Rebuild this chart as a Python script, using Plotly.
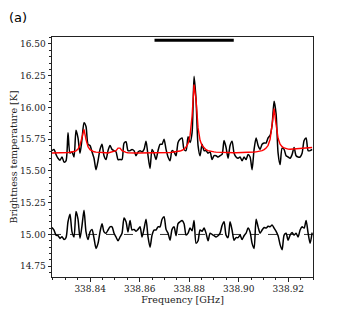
import numpy as np
import plotly.graph_objects as go

# ---- data ----
freq_start = 338.8246   # GHz, first channel
freq_step = 0.000808    # GHz per channel
n_chan = 131

spectrum = [
    15.66, 15.67, 15.63, 15.60, 15.585, 15.61, 15.57, 15.58, 15.80, 15.64,
    15.65, 15.61, 15.82, 15.76, 15.64, 15.75, 15.88, 15.85, 15.71, 15.70,
    15.65, 15.60, 15.51, 15.58, 15.67, 15.71, 15.62, 15.59, 15.66, 15.70,
    15.67, 15.66, 15.65, 15.59, 15.59, 15.59, 15.72, 15.73, 15.66, 15.66,
    15.67, 15.66, 15.62, 15.65, 15.66, 15.65, 15.67, 15.735, 15.62, 15.52,
    15.67, 15.64, 15.59, 15.66, 15.71, 15.71, 15.75, 15.67, 15.61, 15.58,
    15.66, 15.65, 15.62, 15.725, 15.75, 15.76, 15.67, 15.66, 15.77, 15.725,
    15.80, 16.245, 16.06, 15.70, 15.62, 15.71, 15.66, 15.66, 15.64, 15.65,
    15.59, 15.62, 15.62, 15.61, 15.62, 15.63, 15.74, 15.685, 15.60, 15.70,
    15.735, 15.64, 15.61, 15.60, 15.61, 15.58, 15.61, 15.59, 15.63, 15.61,
    15.51, 15.67, 15.76, 15.70, 15.67, 15.71, 15.72, 15.72, 15.76, 15.78,
    15.86, 16.05, 15.95, 15.64, 15.55, 15.68, 15.67, 15.62, 15.61, 15.60,
    15.63, 15.685, 15.62, 15.61, 15.61, 15.64, 15.74, 15.76, 15.66, 15.66,
    15.67,
]

model = [
    15.641, 15.641, 15.642, 15.642, 15.642, 15.643, 15.643, 15.644, 15.645, 15.647,
    15.649, 15.653, 15.659, 15.673, 15.703, 15.773, 15.828, 15.747, 15.691, 15.668,
    15.657, 15.651, 15.648, 15.646, 15.645, 15.644, 15.643, 15.643, 15.642, 15.646,
    15.647, 15.651, 15.660, 15.680, 15.680, 15.660, 15.651, 15.646, 15.644, 15.642,
    15.641, 15.641, 15.641, 15.641, 15.641, 15.641, 15.641, 15.642, 15.642, 15.642,
    15.642, 15.642, 15.643, 15.643, 15.643, 15.644, 15.644, 15.645, 15.645, 15.646,
    15.647, 15.649, 15.651, 15.654, 15.657, 15.663, 15.672, 15.688, 15.717, 15.780,
    15.931, 16.180, 16.060, 15.839, 15.742, 15.700, 15.679, 15.667, 15.660, 15.655,
    15.652, 15.650, 15.648, 15.647, 15.646, 15.645, 15.644, 15.645, 15.645, 15.644,
    15.644, 15.644, 15.644, 15.644, 15.644, 15.644, 15.644, 15.644, 15.645, 15.645,
    15.647, 15.649, 15.650, 15.652, 15.655, 15.660, 15.668, 15.680, 15.702, 15.750,
    15.864, 15.991, 15.866, 15.757, 15.711, 15.691, 15.681, 15.675, 15.672, 15.671,
    15.672, 15.672, 15.673, 15.674, 15.675, 15.677, 15.678, 15.680, 15.681, 15.683,
    15.685,
]

residual = [
    15.055, 15.034, 14.995, 14.99, 14.969, 14.982, 14.96, 14.975, 15.10, 15.16,
    15.02, 14.98, 15.18, 15.12, 14.97, 15.07, 15.19, 15.02, 14.96, 15.02,
    15.04, 14.97, 14.89, 14.93, 15.02, 15.085, 15.02, 15.01, 15.035, 15.06,
    15.06, 15.01, 14.98, 14.95, 14.98, 15.01, 15.13, 15.10, 15.02, 15.11,
    15.035, 15.04, 15.025, 15.04, 15.06, 14.98, 15.045, 15.12, 14.98, 14.90,
    14.995, 15.035, 15.035, 15.06, 15.06, 15.12, 15.14, 15.04, 15.01, 14.955,
    15.04, 15.06, 14.99, 15.085, 15.10, 15.11, 15.085, 14.995, 15.01, 15.05,
    15.03, 15.11, 14.93, 14.95, 15.035, 15.025, 15.05, 15.01, 14.95, 15.01,
    15.00, 14.99, 14.98, 14.99, 15.01, 15.07, 15.10, 14.995, 14.975, 15.10,
    15.035, 14.955, 14.975, 14.975, 14.995, 14.96, 14.99, 15.01, 15.05, 15.02,
    14.93, 14.89, 15.12, 15.06, 15.01, 15.035, 15.055, 15.05, 15.065, 15.06,
    15.075, 15.05, 15.025, 14.99, 14.92, 14.88, 14.995, 15.01, 14.955, 14.995,
    15.015, 14.995, 15.01, 14.98, 15.035, 15.06, 15.05, 15.11, 15.01, 14.93,
    15.015,
]

residual_zero = 15.0
bar_freq = [338.866, 338.898]
bar_level = [16.53, 16.53]

x_ticks = [338.84, 338.86, 338.88, 338.90, 338.92]
x_ticklabels = ["338.84", "338.86", "338.88", "338.90", "338.92"]
y_ticks = [14.75, 15.00, 15.25, 15.50, 15.75, 16.00, 16.25, 16.50]
y_ticklabels = ["14.75", "15.00", "15.25", "15.50", "15.75", "16.00", "16.25", "16.50"]

freq = freq_start + freq_step * np.arange(n_chan)

# ---- figure ----
AX = "#222222"
SERIF = "'DejaVu Serif', 'Liberation Serif', serif"

# page body has an 8px margin; the figure is sized/offset to compensate
fig = go.Figure()
fig.add_trace(go.Scatter(x=freq, y=spectrum, mode="lines",
                         line=dict(color="black", width=1.5, shape="spline", smoothing=0.7)))
fig.add_trace(go.Scatter(x=freq, y=model, mode="lines",
                         line=dict(color="red", width=1.4)))
fig.add_trace(go.Scatter(x=freq, y=residual, mode="lines",
                         line=dict(color="black", width=1.5, shape="spline", smoothing=0.7)))
fig.add_trace(go.Scatter(x=bar_freq, y=bar_level, mode="lines",
                         line=dict(color="black", width=3)))
fig.add_hline(y=residual_zero, line=dict(color="black", width=0.8, dash="dash"))

fig.update_layout(
    width=340, height=304,
    margin=dict(l=44, r=35, t=29, b=35, autoexpand=False),
    plot_bgcolor="white", paper_bgcolor="white",
    showlegend=False,
    font=dict(family=SERIF, size=9, color=AX),
)
fig.update_xaxes(
    range=[338.8246, 338.9300], automargin=False,
    tickvals=x_ticks, ticktext=x_ticklabels,
    ticks="outside", ticklen=3.5, tickwidth=0.8, tickcolor=AX,
    showline=True, mirror=True, linecolor=AX, linewidth=1,
    showgrid=False, zeroline=False,
    minor=dict(ticks="outside", ticklen=2, tickwidth=0.6, tickcolor=AX,
               tick0=338.84, dtick=0.005, showgrid=False),
    tickfont=dict(family=SERIF, size=9, color=AX),
    title=dict(text="Frequency [GHz]", font=dict(family=SERIF, size=9.5, color=AX), standoff=3),
)
fig.update_yaxes(
    range=[14.665, 16.555], automargin=False,
    tickvals=y_ticks, ticktext=y_ticklabels,
    ticks="outside", ticklen=3.5, tickwidth=0.8, tickcolor=AX,
    showline=True, mirror=True, linecolor=AX, linewidth=1,
    showgrid=False, zeroline=False,
    minor=dict(ticks="outside", ticklen=2, tickwidth=0.6, tickcolor=AX,
               tick0=14.75, dtick=0.05, showgrid=False),
    tickfont=dict(family=SERIF, size=9, color=AX),
    title=dict(text="Brightness temperature [K]", font=dict(family=SERIF, size=9.5, color=AX), standoff=5),
)
fig.add_annotation(text="(a)", xref="paper", yref="paper",
                   x=(-1 - 44) / 261, y=(269 - 9) / 240,
                   xanchor="left", yanchor="middle", showarrow=False,
                   font=dict(family="DejaVu Sans", size=13, color="black"))

fig.write_html("out.html")
